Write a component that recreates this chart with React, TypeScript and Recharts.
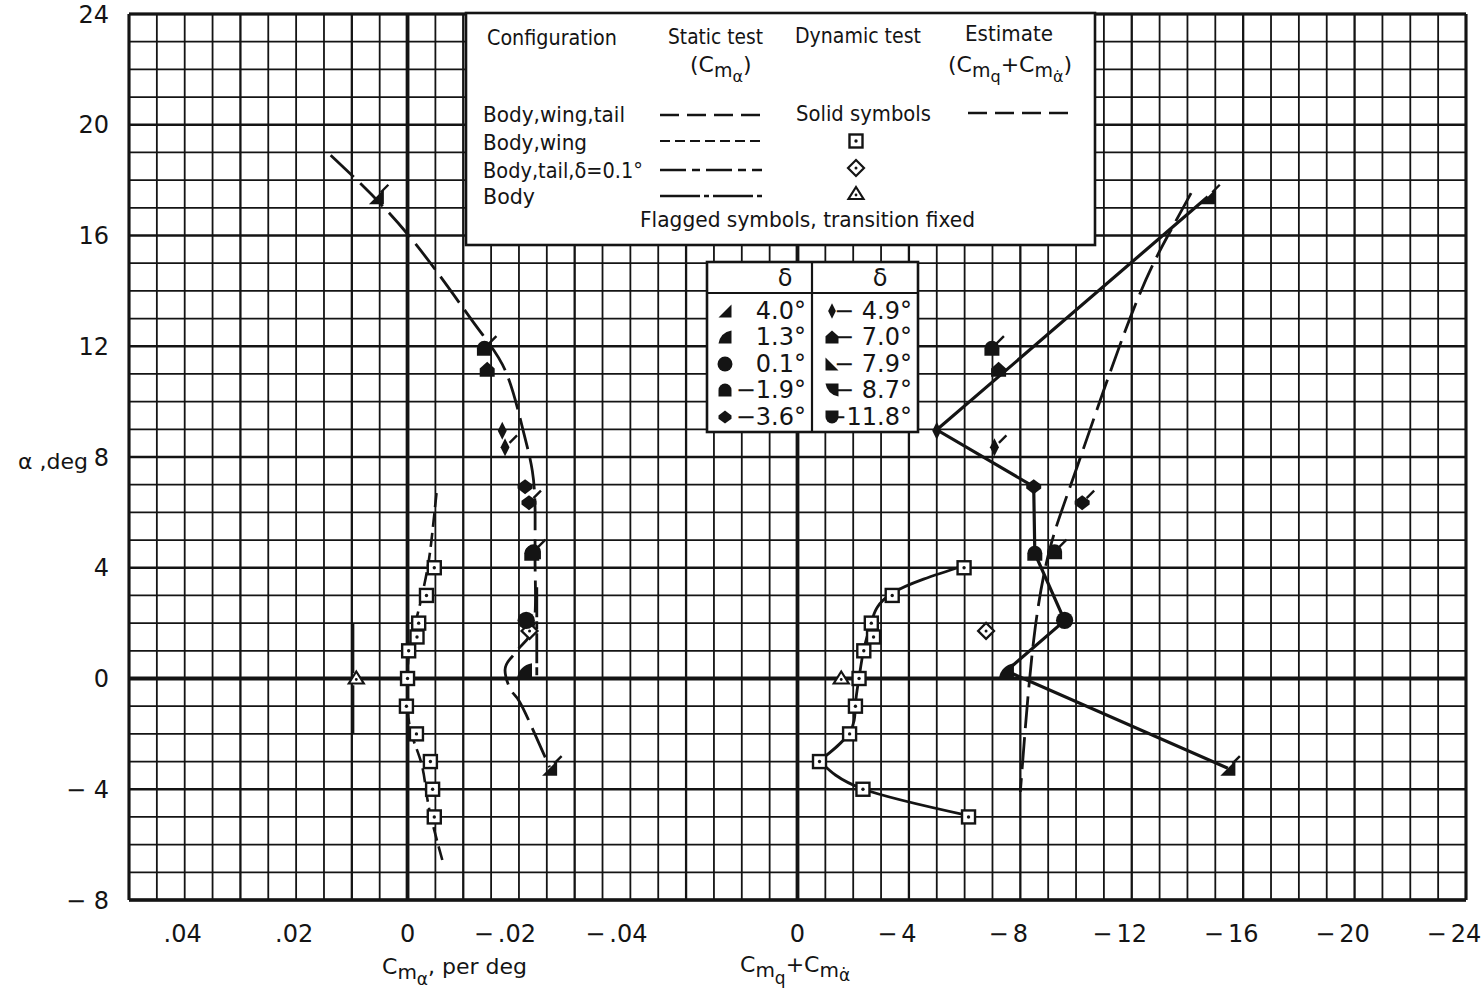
import React from 'react';
import { ComposedChart, XAxis, YAxis, Line, Scatter, ReferenceLine } from 'recharts';

const FONT = '"DejaVu Sans", "Liberation Sans", Arial, sans-serif';
const INK = '#141414';

// ---------- axes ----------
const alphaTicks = [-8, -4, 0, 4, 8, 12, 16, 20, 24];
const cmaTicks = [0.04, 0.02, 0, -0.02, -0.04];
const cmqTicks = [0, -4, -8, -12, -16, -20, -24];
const alphaGrid = Array.from({ length: 33 }, (_, i) => i - 8);
const cmqGrid = Array.from({ length: 49 }, (_, i) => 24 - i);

// ---------- body, wing, tail (solid symbols) ----------
const bwtAlpha = [17.4, 11.93, 11.17, 8.95, 8.35, 6.93, 6.35, 4.52, 4.58, 2.1, 0.28, -3.24];
const bwtDelta = ['4.0', '-1.9', '-7.0', '-4.9', '-4.9', '-3.6', '-3.6', '-1.9', '-1.9', '0.1', '1.3', '4.0'];
const bwtFlag = [true, true, false, false, true, false, true, false, true, false, false, true];
const bwtCma = [0.0056, -0.0138, -0.0143, -0.017, -0.0175, -0.0211, -0.0218, -0.0223, -0.0226, -0.0213, -0.021, -0.0255];
const bwtCmq = [-14.73, -6.98, -7.22, -5.0, -7.07, -8.48, -10.22, -8.52, -9.23, -9.59, -7.5, -15.45];

// static test, body-wing-tail (long dashes)
const bwtStaticAlpha = [18.9, 16.1, 12.9, 11.1, 9.0, 7.5, 6.0, 4.0, 2.0, 1.2, 0.75, 0.3, -0.4, -0.8, -1.8, -3.2];
const bwtStaticCma = [0.0138, 0.0002, -0.0117, -0.0176, -0.0207, -0.0224, -0.0229, -0.0229, -0.0227, -0.0205, -0.0186, -0.0175, -0.0185, -0.02, -0.0224, -0.0255];

// dynamic fairing, body-wing-tail (solid)
const bwtDynAlpha = [17.4, 8.98, 6.93, 4.52, 2.09, 0.27, -3.24];
const bwtDynCmq = [-14.73, -5.0, -8.48, -8.52, -9.59, -7.5, -15.45];

// estimate (long dashes)
const estAlpha = [17.53, 16.0, 13.07, 7.65, 4.76, 1.39, -4.1];
const estCmq = [-14.13, -13.3, -11.96, -10.04, -9.08, -8.48, -8.0];

// ---------- body, wing (open squares) ----------
const bwAlpha = [4, 3, 2, 1.5, 1, 0, -1, -2, -3, -4, -5];
const bwCma = [-0.0048, -0.0034, -0.002, -0.0017, -0.0002, 0.0, 0.0002, -0.0016, -0.0041, -0.0045, -0.0048];
const bwCmq = [-5.98, -3.4, -2.65, -2.73, -2.38, -2.21, -2.08, -1.87, -0.79, -2.35, -6.14];

const bwStaticAlpha = [6.7, 5, 4, 3, 2, 1, 0, -1, -2, -3, -4, -5, -6.6];
const bwStaticCma = [-0.0052, -0.0043, -0.0036, -0.0026, -0.0014, -0.0003, 0.0, 0.0, -0.0007, -0.0024, -0.0033, -0.0042, -0.0063];

const bwDynUpperAlpha = [4.08, 3.08, 2.03, 1.05, 0.03, -0.95, -1.95, -2.97];
const bwDynUpperCmq = [-6.0, -3.4, -2.65, -2.38, -2.21, -2.08, -1.87, -0.79];
const bwDynLowerAlpha = [-2.97, -3.99, -4.95];
const bwDynLowerCmq = [-0.79, -2.35, -6.14];

// ---------- body, tail (open diamond) ----------
const btAlpha = [1.72];
const btCma = [-0.0219];
const btCmq = [-6.77];
const btStaticAlpha = [3.3, 0.1];
const btStaticCma = [-0.0232, -0.0232];

// ---------- body (open triangle) ----------
const bAlpha = [0];
const bCma = [0.0092];
const bCmq = [-1.57];
const bStaticAlpha = [2.0, -2.0];
const bStaticCma = [0.0098, 0.0098];

// ---------- delta key ----------
const keyLeft = ['4.0', '1.3', '0.1', '-1.9', '-3.6'];
const keyLeftLabel = ['4.0°', '1.3°', '0.1°', '−1.9°', '−3.6°'];
const keyRight = ['-4.9', '-7.0', '-7.9', '-8.7', '-11.8'];
const keyRightLabel = ['− 4.9°', '− 7.0°', '− 7.9°', '− 8.7°', '−11.8°'];

type Pt = { x: number; y: number; sym?: string; flag?: boolean };
const pts = (ys: number[], xs: number[]): Pt[] => ys.map((y, i) => ({ x: xs[i], y }));
const symPts = (xs: number[]): Pt[] =>
  bwtAlpha.map((y, i) => ({ x: xs[i], y, sym: bwtDelta[i], flag: bwtFlag[i] }));

function symbolPath(kind: string, s: number): string {
  switch (kind) {
    case '4.0':
      return `M${-s},${s} L${s},${s} L${s},${-s} Z`;
    case '1.3':
      return `M${-s},${s} L${s},${s} L${s},${-s} Q${-s * 0.7},${-s * 0.7} ${-s},${s} Z`;
    case '-1.9':
      return `M${-s},${s} L${-s},0 A${s},${s} 0 0 1 ${s},0 L${s},${s} Z`;
    case '-3.6':
      return `M0,${-s} L${s},${-s * 0.25} L${s},${s * 0.25} L0,${s} L${-s},${s * 0.25} L${-s},${-s * 0.25} Z`;
    case '-4.9':
      return `M0,${-s * 1.2} L${s * 0.6},0 L0,${s * 1.2} L${-s * 0.6},0 Z`;
    case '-7.0':
      return `M${-s},${s} L${-s},${-s * 0.1} L0,${-s} L${s},${-s * 0.1} L${s},${s} Z`;
    case '-7.9':
      return `M${-s},${-s} L${-s},${s} L${s},${s} Z`;
    case '-8.7':
      return `M${-s},${-s} L${s},${-s} L${s},${s} Q${-s * 0.7},${s * 0.7} ${-s},${-s} Z`;
    case '-11.8':
      return `M${-s},${-s} L${s},${-s} L${s},0 A${s},${s} 0 0 1 ${-s},0 Z`;
    default:
      return '';
  }
}

function SolidMark({ cx, cy, sym, flag, s = 7.5 }: { cx: number; cy: number; sym: string; flag?: boolean; s?: number }) {
  return (
    <g transform={`translate(${cx},${cy})`}>
      {sym === '0.1' ? (
        <circle r={s * 1.15} fill={INK} />
      ) : (
        <path d={symbolPath(sym, s)} fill={INK} />
      )}
      {flag && <line x1={s * 0.6} y1={-s * 0.6} x2={s * 1.6} y2={-s * 1.6} stroke={INK} strokeWidth={2.4} />}
    </g>
  );
}

const solidShape = (p: any) => <SolidMark cx={p.cx} cy={p.cy} sym={p.payload.sym} flag={p.payload.flag} />;

function OpenSquare({ cx, cy }: { cx: number; cy: number }) {
  return (
    <g>
      <rect x={cx - 6.5} y={cy - 6.5} width={13} height={13} fill="#fff" stroke={INK} strokeWidth={2.4} />
      <circle cx={cx} cy={cy} r={1.7} fill={INK} />
    </g>
  );
}
function OpenDiamond({ cx, cy }: { cx: number; cy: number }) {
  return (
    <g>
      <path d={`M${cx},${cy - 8} L${cx + 8},${cy} L${cx},${cy + 8} L${cx - 8},${cy} Z`} fill="#fff" stroke={INK} strokeWidth={2.2} />
      <circle cx={cx} cy={cy} r={1.5} fill={INK} />
    </g>
  );
}
function OpenTriangle({ cx, cy }: { cx: number; cy: number }) {
  return (
    <g>
      <path d={`M${cx},${cy - 7} L${cx + 7.5},${cy + 5} L${cx - 7.5},${cy + 5} Z`} fill="#fff" stroke={INK} strokeWidth={2.2} />
      <circle cx={cx} cy={cy + 1} r={1.4} fill={INK} />
    </g>
  );
}

const squareShape = (p: any) => <OpenSquare cx={p.cx} cy={p.cy} />;
const diamondShape = (p: any) => <OpenDiamond cx={p.cx} cy={p.cy} />;
const triangleShape = (p: any) => <OpenTriangle cx={p.cx} cy={p.cy} />;

function XTick(props: any) {
  const { x, payload, kind, baseY } = props;
  const v: number = payload.value;
  const neg = v < 0;
  let digits: string;
  if (kind === 'cma') {
    digits = v === 0 ? '0' : '.' + String(Math.round(Math.abs(v) * 100)).padStart(2, '0');
  } else {
    digits = String(Math.abs(v));
  }
  const w = digits.split('').reduce((a, c) => a + (c === '.' ? 7.6 : 15.3), 0);
  const cx = kind === 'cma' && v !== 0 ? x - 2 : x;
  const ty = baseY;
  return (
    <g>
      <text x={cx} y={ty} textAnchor="middle" dominantBaseline="central" fontSize={24} fill={INK} fontFamily={FONT}>
        {digits}
      </text>
      {neg && (
        <text x={cx - w / 2 - 4} y={ty} textAnchor="end" dominantBaseline="central" fontSize={24} fill={INK} fontFamily={FONT}>
          −
        </text>
      )}
    </g>
  );
}

const fmtAlpha = (v: number) => (v < 0 ? `− ${-v}` : `${v}`);

function T({ x, y, w, size = 22, children, anchor = 'start' }: any) {
  return (
    <text
      x={x}
      y={y}
      fontSize={size}
      fill={INK}
      fontFamily={FONT}
      dominantBaseline="central"
      textAnchor={anchor}
      {...(w ? { textLength: w, lengthAdjust: 'spacingAndGlyphs' } : {})}
    >
      {children}
    </text>
  );
}

function Overlay() {
  const rowsY = [311, 337, 364, 390, 417];
  return (
    <svg width={1483} height={997} style={{ position: 'absolute', left: 0, top: 0, pointerEvents: 'none' }}>
      {/* main key */}
      <rect x={466} y={13} width={629} height={232} fill="#fff" stroke={INK} strokeWidth={2.6} />
      <T x={487} y={37} w={130}>Configuration</T>
      <T x={668} y={36} w={95}>Static test</T>
      <text x={690} y={72} fontSize={22} fill={INK} fontFamily={FONT}>
        (C<tspan fontSize={19} dy={5}>m</tspan>
        <tspan fontSize={16} dy={5}>α</tspan>
        <tspan fontSize={22} dy={-10}>)</tspan>
      </text>
      <T x={795} y={35} w={126}>Dynamic test</T>
      <T x={965} y={33} w={88}>Estimate</T>
      <text x={948} y={72} fontSize={22} fill={INK} fontFamily={FONT}>
        (C<tspan fontSize={19} dy={5}>m</tspan>
        <tspan fontSize={16} dy={5}>q</tspan>
        <tspan fontSize={22} dy={-10}>+C</tspan>
        <tspan fontSize={19} dy={5}>m</tspan>
        <tspan fontSize={16} dy={5}>α̇</tspan>
        <tspan fontSize={22} dy={-10}>)</tspan>
      </text>

      <T x={483} y={114} w={142}>Body,wing,tail</T>
      <line x1={660} y1={115} x2={762} y2={115} stroke={INK} strokeWidth={2.4} strokeDasharray="19 8" />
      <T x={796} y={113} w={135}>Solid symbols</T>
      <line x1={968} y1={113} x2={1070} y2={113} stroke={INK} strokeWidth={2.4} strokeDasharray="19 8" />

      <T x={483} y={142} w={104}>Body,wing</T>
      <line x1={660} y1={141} x2={762} y2={141} stroke={INK} strokeWidth={2.2} strokeDasharray="10 5" />
      <OpenSquare cx={856} cy={141} />

      <T x={483} y={170} w={160}>Body,tail,δ=0.1°</T>
      <line x1={660} y1={170} x2={762} y2={170} stroke={INK} strokeWidth={2.4} strokeDasharray="26 6 8 6" />
      <OpenDiamond cx={856} cy={168} />

      <T x={483} y={196} w={52}>Body</T>
      <line x1={660} y1={196} x2={762} y2={196} stroke={INK} strokeWidth={2.4} strokeDasharray="40 4 5 4" />
      <OpenTriangle cx={856} cy={194} />

      <T x={640} y={219} w={335}>Flagged symbols, transition fixed</T>

      {/* delta key */}
      <rect x={707} y={262} width={211} height={170} fill="#fff" stroke={INK} strokeWidth={2.6} />
      <line x1={707} y1={293} x2={918} y2={293} stroke={INK} strokeWidth={2.2} />
      <line x1={812} y1={262} x2={812} y2={432} stroke={INK} strokeWidth={2.2} />
      <T x={785} y={278} size={24} anchor="middle">δ</T>
      <T x={880} y={278} size={24} anchor="middle">δ</T>
      {keyLeft.map((k, i) => (
        <g key={'kl' + k}>
          <SolidMark cx={725} cy={rowsY[i]} sym={k} s={6.5} />
          <T x={806} y={rowsY[i]} size={24} anchor="end">{keyLeftLabel[i]}</T>
        </g>
      ))}
      {keyRight.map((k, i) => (
        <g key={'kr' + k}>
          <SolidMark cx={832} cy={rowsY[i]} sym={k} s={6.5} />
          <T x={912} y={rowsY[i]} size={24} anchor="end">{keyRightLabel[i]}</T>
        </g>
      ))}

      {/* axis titles */}
      <T x={18} y={461} size={22}>α ,deg</T>
      <text x={382} y={974} fontSize={22} fill={INK} fontFamily={FONT}>
        C<tspan fontSize={20} dy={5}>m</tspan>
        <tspan fontSize={17} dy={6}>α</tspan>
        <tspan fontSize={22} dy={-11}>, per deg</tspan>
      </text>
      <text x={740} y={972} fontSize={22} fill={INK} fontFamily={FONT}>
        C<tspan fontSize={20} dy={5}>m</tspan>
        <tspan fontSize={17} dy={7}>q</tspan>
        <tspan fontSize={22} dy={-12}>+C</tspan>
        <tspan fontSize={20} dy={5}>m</tspan>
        <tspan fontSize={17} dy={4}>α̇</tspan>
      </text>
    </svg>
  );
}

const PLOT_BOTTOM = 900;
const TICK_Y = 934;

export default function App() {
  const lineCommon = { dot: false, activeDot: false, isAnimationActive: false, dataKey: 'y', stroke: INK, yAxisId: 'a' } as any;
  return (
    <div style={{ position: 'relative', width: 1483, height: 997, background: '#fff', overflow: 'hidden' }}>
      <style>{'html,body{margin:0;padding:0;overflow:hidden;background:#fff}'}</style>
      <ComposedChart width={1483} height={997} margin={{ top: 14, right: 17, bottom: 95, left: 0 }}>
        <XAxis
          xAxisId="cma"
          dataKey="x"
          type="number"
          domain={[-0.19, 0.05]}
          reversed
          allowDataOverflow
          ticks={cmaTicks}
          interval={0}
          height={1}
          tickLine={false}
          axisLine={false}
          tickSize={0}
          tickMargin={0}
          tick={(p: any) => <XTick {...p} kind="cma" baseY={TICK_Y} />}
        />
        <XAxis
          xAxisId="cmq"
          dataKey="x"
          type="number"
          domain={[-24, 24]}
          reversed
          allowDataOverflow
          ticks={cmqTicks}
          interval={0}
          height={1}
          tickLine={false}
          axisLine={false}
          tickSize={0}
          tickMargin={0}
          tick={(p: any) => <XTick {...p} kind="cmq" baseY={TICK_Y} />}
        />
        <YAxis
          yAxisId="a"
          dataKey="y"
          type="number"
          domain={[-8, 24]}
          allowDataOverflow
          ticks={alphaTicks}
          interval={0}
          width={129}
          tickLine={false}
          axisLine={false}
          tickSize={0}
          tickMargin={20}
          tickFormatter={fmtAlpha}
          tick={{ fontSize: 24, fill: INK, fontFamily: FONT }}
        />

        {alphaGrid.map((v) => (
          <ReferenceLine key={'h' + v} xAxisId="cmq" yAxisId="a" y={v} stroke={INK} strokeWidth={v % 4 === 0 ? 2.3 : 1.8} />
        ))}
        {cmqGrid.map((v) => (
          <ReferenceLine key={'v' + v} xAxisId="cmq" yAxisId="a" x={v} stroke={INK} strokeWidth={v % 4 === 0 ? 2.3 : 1.8} />
        ))}
        <ReferenceLine xAxisId="cmq" yAxisId="a" y={0} stroke={INK} strokeWidth={3.8} />
        <ReferenceLine xAxisId="cmq" yAxisId="a" y={24} stroke={INK} strokeWidth={3} />
        <ReferenceLine xAxisId="cmq" yAxisId="a" y={-8} stroke={INK} strokeWidth={3.4} />
        <ReferenceLine xAxisId="cmq" yAxisId="a" x={24} stroke={INK} strokeWidth={3} />
        <ReferenceLine xAxisId="cmq" yAxisId="a" x={-24} stroke={INK} strokeWidth={3} />
        <ReferenceLine xAxisId="cmq" yAxisId="a" x={0} stroke={INK} strokeWidth={3.8} />
        <ReferenceLine xAxisId="cma" yAxisId="a" x={0} stroke={INK} strokeWidth={3.8} />

        {/* static (Cm alpha) curves */}
        <Line {...lineCommon} xAxisId="cma" data={pts(bwtStaticAlpha, bwtStaticCma)} type="natural" strokeWidth={2.8} strokeDasharray="32 9" />
        <Line {...lineCommon} xAxisId="cma" data={pts(bwStaticAlpha, bwStaticCma)} type="natural" strokeWidth={2.6} strokeDasharray="14 6" />
        <Line {...lineCommon} xAxisId="cma" data={pts(btStaticAlpha, btStaticCma)} type="linear" strokeWidth={2.8} strokeDasharray="30 4 8 4" />
        <Line {...lineCommon} xAxisId="cma" data={pts(bStaticAlpha, bStaticCma)} type="linear" strokeWidth={2.8} strokeDasharray="50 4 4 4" />

        {/* dynamic (Cmq + Cm alpha-dot) curves */}
        <Line {...lineCommon} xAxisId="cmq" data={pts(bwtDynAlpha, bwtDynCmq)} type="linear" strokeWidth={3.2} />
        <Line {...lineCommon} xAxisId="cmq" data={pts(estAlpha, estCmq)} type="natural" strokeWidth={2.8} strokeDasharray="32 9" />
        <Line {...lineCommon} xAxisId="cmq" data={pts(bwDynUpperAlpha, bwDynUpperCmq)} type="natural" strokeWidth={2.8} />
        <Line {...lineCommon} xAxisId="cmq" data={pts(bwDynLowerAlpha, bwDynLowerCmq)} type="natural" strokeWidth={2.8} />

        {/* symbols */}
        <Scatter xAxisId="cma" yAxisId="a" dataKey="y" data={pts(bwAlpha, bwCma)} shape={squareShape} isAnimationActive={false} />
        <Scatter xAxisId="cmq" yAxisId="a" dataKey="y" data={pts(bwAlpha, bwCmq)} shape={squareShape} isAnimationActive={false} />
        <Scatter xAxisId="cma" yAxisId="a" dataKey="y" data={pts(btAlpha, btCma)} shape={diamondShape} isAnimationActive={false} />
        <Scatter xAxisId="cmq" yAxisId="a" dataKey="y" data={pts(btAlpha, btCmq)} shape={diamondShape} isAnimationActive={false} />
        <Scatter xAxisId="cma" yAxisId="a" dataKey="y" data={pts(bAlpha, bCma)} shape={triangleShape} isAnimationActive={false} />
        <Scatter xAxisId="cmq" yAxisId="a" dataKey="y" data={pts(bAlpha, bCmq)} shape={triangleShape} isAnimationActive={false} />
        <Scatter xAxisId="cma" yAxisId="a" dataKey="y" data={symPts(bwtCma)} shape={solidShape} isAnimationActive={false} />
        <Scatter xAxisId="cmq" yAxisId="a" dataKey="y" data={symPts(bwtCmq)} shape={solidShape} isAnimationActive={false} />
      </ComposedChart>
      <Overlay />
    </div>
  );
}
